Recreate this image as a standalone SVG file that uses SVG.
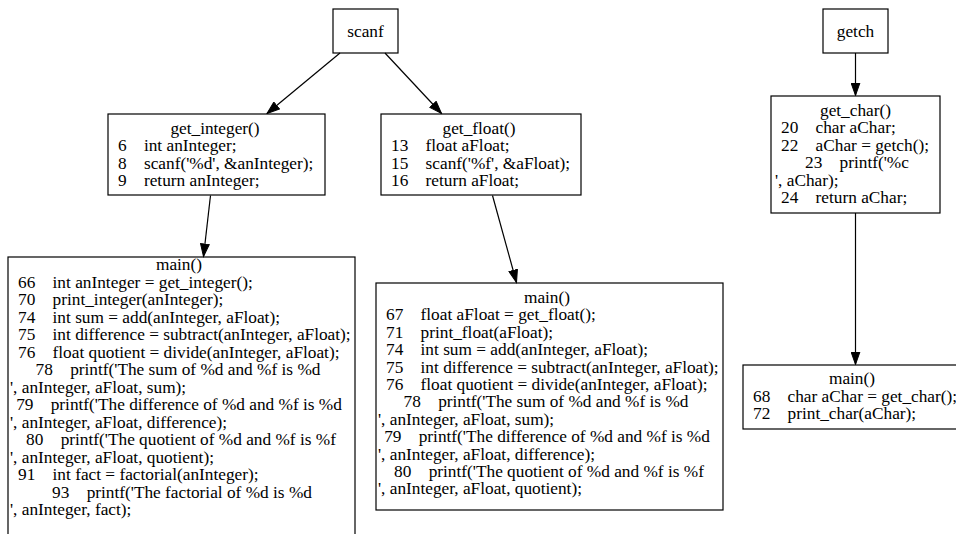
<svg xmlns="http://www.w3.org/2000/svg" width="956" height="534" viewBox="0 0 956 534">
  <style>
    .bg { fill: #ffffff; }
    .box { fill: none; stroke: #000; stroke-width: 1.2; }
    .edge { fill: none; stroke: #000; stroke-width: 1.2; }
    text { font-family: "Liberation Serif", "Times New Roman", serif; font-size: 17.3px; fill: #000; white-space: pre; }
    .c { text-anchor: middle; }
  </style>
  <defs>
    <marker id="arrow" markerUnits="userSpaceOnUse" markerWidth="14" markerHeight="10" viewBox="0 -5 13 10" refX="12.5" refY="0" orient="auto">
      <path d="M0,-4.4 L12.5,0 L0,4.4 z" fill="#000" stroke="#000" stroke-width="1"/>
    </marker>
  </defs>
  <rect class="bg" x="0" y="0" width="956" height="534"/>

  <!-- connectors -->
  <g id="edges">
    <line class="edge" x1="340" y1="53" x2="267" y2="113.5" marker-end="url(#arrow)"/>
    <line class="edge" x1="385" y1="53" x2="441.5" y2="113.5" marker-end="url(#arrow)"/>
    <line class="edge" x1="210.5" y1="195.5" x2="203.5" y2="256.5" marker-end="url(#arrow)"/>
    <line class="edge" x1="492.5" y1="195.5" x2="516.5" y2="282.5" marker-end="url(#arrow)"/>
    <line class="edge" x1="855.5" y1="53" x2="855.5" y2="95.5" marker-end="url(#arrow)"/>
    <line class="edge" x1="855.5" y1="213" x2="855.5" y2="364.5" marker-end="url(#arrow)"/>
  </g>

  <!-- scanf -->
  <g id="scanf">
    <rect class="box" x="333" y="9" width="65" height="44"/>
    <text class="c" x="365.5" y="36.5">scanf</text>
  </g>

  <!-- getch -->
  <g id="getch">
    <rect class="box" x="823" y="9" width="65" height="44"/>
    <text class="c" x="855.5" y="36.5">getch</text>
  </g>

  <!-- get_integer() -->
  <g id="get_integer">
    <rect class="box" x="108" y="114" width="217" height="81"/>
    <text class="c" x="215" y="133.75">get_integer()</text>
    <text x="118" y="151.25" xml:space="preserve">6    int anInteger;</text>
    <text x="118" y="168.75" xml:space="preserve">8    scanf('%d', &amp;anInteger);</text>
    <text x="118" y="186.25" xml:space="preserve">9    return anInteger;</text>
  </g>

  <!-- get_float() -->
  <g id="get_float">
    <rect class="box" x="381" y="114" width="200" height="81"/>
    <text class="c" x="479" y="133.75">get_float()</text>
    <text x="391" y="151.25" xml:space="preserve">13    float aFloat;</text>
    <text x="391" y="168.75" xml:space="preserve">15    scanf('%f', &amp;aFloat);</text>
    <text x="391" y="186.25" xml:space="preserve">16    return aFloat;</text>
  </g>

  <!-- get_char() -->
  <g id="get_char">
    <rect class="box" x="771" y="96" width="169" height="117"/>
    <text class="c" x="855.5" y="115.5">get_char()</text>
    <text x="781" y="133" xml:space="preserve">20    char aChar;</text>
    <text x="781" y="150.5" xml:space="preserve">22    aChar = getch();</text>
    <text class="c" x="857" y="168" xml:space="preserve">23    printf('%c</text>
    <text x="775" y="185.5" xml:space="preserve">', aChar);</text>
    <text x="781" y="203" xml:space="preserve">24    return aChar;</text>
  </g>

  <!-- main() calling get_integer -->
  <g id="main_integer">
    <rect class="box" x="8" y="257" width="347" height="290"/>
    <text class="c" x="179" y="270.25">main()</text>
    <text x="18" y="287.75" xml:space="preserve">66    int anInteger = get_integer();</text>
    <text x="18" y="305.25" xml:space="preserve">70    print_integer(anInteger);</text>
    <text x="18" y="322.75" xml:space="preserve">74    int sum = add(anInteger, aFloat);</text>
    <text x="18" y="340.25" xml:space="preserve">75    int difference = subtract(anInteger, aFloat);</text>
    <text x="18" y="357.75" xml:space="preserve">76    float quotient = divide(anInteger, aFloat);</text>
    <text class="c" x="178" y="375.25" xml:space="preserve">78    printf('The sum of %d and %f is %d</text>
    <text x="10" y="392.75" xml:space="preserve">', anInteger, aFloat, sum);</text>
    <text class="c" x="179" y="410.25" xml:space="preserve">79    printf('The difference of %d and %f is %d</text>
    <text x="10" y="427.75" xml:space="preserve">', anInteger, aFloat, difference);</text>
    <text class="c" x="181" y="445.25" xml:space="preserve">80    printf('The quotient of %d and %f is %f</text>
    <text x="10" y="462.75" xml:space="preserve">', anInteger, aFloat, quotient);</text>
    <text x="18" y="480.25" xml:space="preserve">91    int fact = factorial(anInteger);</text>
    <text class="c" x="182" y="497.75" xml:space="preserve">93    printf('The factorial of %d is %d</text>
    <text x="10" y="515.25" xml:space="preserve">', anInteger, fact);</text>
  </g>

  <!-- main() calling get_float -->
  <g id="main_float">
    <rect class="box" x="376" y="283" width="347" height="227"/>
    <text class="c" x="547" y="303">main()</text>
    <text x="386" y="320.4" xml:space="preserve">67    float aFloat = get_float();</text>
    <text x="386" y="337.8" xml:space="preserve">71    print_float(aFloat);</text>
    <text x="386" y="355.2" xml:space="preserve">74    int sum = add(anInteger, aFloat);</text>
    <text x="386" y="372.6" xml:space="preserve">75    int difference = subtract(anInteger, aFloat);</text>
    <text x="386" y="390" xml:space="preserve">76    float quotient = divide(anInteger, aFloat);</text>
    <text class="c" x="546" y="407.4" xml:space="preserve">78    printf('The sum of %d and %f is %d</text>
    <text x="378" y="424.8" xml:space="preserve">', anInteger, aFloat, sum);</text>
    <text class="c" x="547" y="442.2" xml:space="preserve">79    printf('The difference of %d and %f is %d</text>
    <text x="378" y="459.6" xml:space="preserve">', anInteger, aFloat, difference);</text>
    <text class="c" x="549" y="477" xml:space="preserve">80    printf('The quotient of %d and %f is %f</text>
    <text x="378" y="494.4" xml:space="preserve">', anInteger, aFloat, quotient);</text>
  </g>

  <!-- main() calling get_char -->
  <g id="main_char">
    <rect class="box" x="743" y="365" width="218" height="64"/>
    <text class="c" x="852" y="384">main()</text>
    <text x="753" y="401.5" xml:space="preserve">68    char aChar = get_char();</text>
    <text x="753" y="419" xml:space="preserve">72    print_char(aChar);</text>
  </g>
</svg>
